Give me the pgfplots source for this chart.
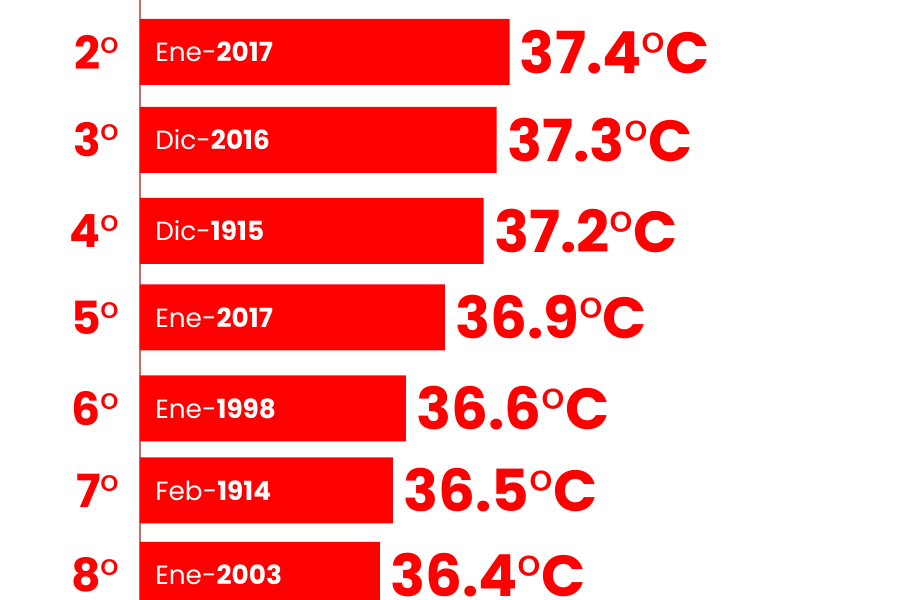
\documentclass[border=0pt]{standalone}
\usepackage{pgfplots}
\pgfplotsset{compat=1.18}
\usepackage{pgfplotstable}
\usepackage{fontspec}
\setmainfont{Poppins}
\definecolor{rojo}{RGB}{255,0,0}
\definecolor{eje}{RGB}{200,110,110}
\newcommand{\grado}{{\mdseries °}}

% y = bar centre (px from top), t = temperature
\pgfplotstableread{
y t lab
52 37.4 {Ene-\textbf{2017}}
140 37.3 {Dic-\textbf{2016}}
231 37.2 {Dic-\textbf{1915}}
317.5 36.9 {Ene-\textbf{2017}}
408.5 36.6 {Ene-\textbf{1998}}
490.5 36.5 {Feb-\textbf{1914}}
575 36.4 {Ene-\textbf{2003}}
}\datos

\begin{document}
\begin{tikzpicture}
\begin{axis}[name=ax,scale only axis,width=15.2cm,height=12cm,
 xmin=34.55,xmax=40.41,ymin=0,ymax=600,y dir=reverse,clip=false,
 axis x line=none,axis y line*=left,
 y axis line style={draw=eje,line width=0.7pt,-},
 ytick={52,140,231,317.5,408.5,490.5,575},
 yticklabels={2\grado,3\grado,4\grado,5\grado,6\grado,7\grado,8\grado},
 major tick length=0pt,
 yticklabel style={font=\fontsize{26}{26}\selectfont\bfseries,text=rojo,inner sep=0pt,xshift=-0.4cm}]
\addplot[xbar,bar shift=0pt,bar width=66,fill=rojo,draw=none,
 point meta=x,nodes near coords={\pgfmathprintnumber[fixed,precision=1,fixed zerofill,assume math mode=true]{\pgfplotspointmeta}\grado C},
 every node near coord/.append style={anchor=west,xshift=0.2cm,inner sep=0pt,text=rojo,
 font=\fontsize{33}{33}\selectfont\bfseries}]
 table[x=t,y=y]{\datos};
\addplot[only marks,mark=none,point meta=explicit symbolic,
 nodes near coords,
 every node near coord/.append style={anchor=west,xshift=0.3cm,inner sep=0pt,text=white,
 font=\fontsize{15}{15}\selectfont}]
 table[x expr=34.55,y=y,meta=lab]{\datos};
\end{axis}
\pgfresetboundingbox
\path[use as bounding box] ([xshift=-2.8cm]ax.south west) rectangle (ax.north east);
\end{tikzpicture}
\end{document}
